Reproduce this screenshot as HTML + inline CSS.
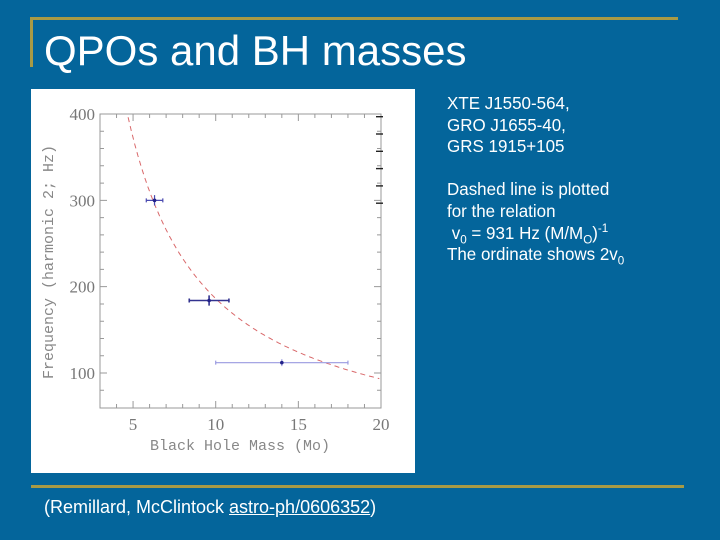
<!DOCTYPE html>
<html><head><meta charset="utf-8"><style>
body{margin:0;width:720px;height:540px;background:#04659b;position:relative;overflow:hidden;font-family:"Liberation Sans",Arial,sans-serif;color:#fff}
.abs{position:absolute}
.side{left:447px;top:93px;font-size:17.5px;line-height:21.6px;white-space:nowrap;transform:scaleX(0.97);transform-origin:left}
sub,sup{line-height:0}
</style></head><body>
<div class="abs" style="left:30px;top:17px;width:648px;height:3px;background:#a89a45"></div>
<div class="abs" style="left:30px;top:17px;width:3px;height:50px;background:#a89a45"></div>
<div class="abs" style="left:44px;top:27px;font-size:42px;line-height:48px;white-space:nowrap">QPOs and BH masses</div>
<div class="abs" style="left:31px;top:485px;width:653px;height:3px;background:#a89a45"></div>
<div class="abs" style="left:44px;top:496px;font-size:18px;line-height:22px;white-space:nowrap">(Remillard, McClintock <span style="text-decoration:underline">astro-ph/0606352</span>)</div>
<div class="abs side">XTE J1550-564,<br>GRO J1655-40,<br>GRS 1915+105<br><br>Dashed line is plotted<br>for the relation<br>&nbsp;v<sub style="font-size:12px">0</sub> = 931 Hz (M/M<sub style="font-size:12px">O</sub>)<sup style="font-size:12px">-1</sup><br>The ordinate shows 2v<sub style="font-size:12px">0</sub></div>
<svg class="abs" style="left:0;top:0" width="720" height="540">
<rect x="31" y="89" width="384" height="384" fill="#fff"/>
<g id="g"></g>
</svg>
<script>
const xTicks=[5,10,15,20];
const yTicks=[100,200,300,400];
const masses=[6.3,9.6,14];
const massLo=[5.8,8.4,10];
const massHi=[6.8,10.8,18];
const freqs=[300,184,112];
const freqErr=[6,6,4];
const nu0=931;
const X0=100,X1=381,Y0=408,Y1=114,xmin=3,xmax=20,ymin=59.5,ymax=400;
const sx=v=>X0+(v-xmin)/(xmax-xmin)*(X1-X0);
const sy=v=>Y0-(v-ymin)/(ymax-ymin)*(Y0-Y1);
const g=document.getElementById('g');const NS='http://www.w3.org/2000/svg';
function mk(t,a){const e=document.createElementNS(NS,t);for(const k in a)e.setAttribute(k,a[k]);g.appendChild(e);return e;}
let f=mk('rect',{x:X0,y:Y1,width:X1-X0,height:Y0-Y1,fill:'none',stroke:'#999','stroke-width':1});


for(let m=4;m<20;m++){const L=xTicks.includes(m)?7:4;
let t=mk('path',{d:`M${sx(m)},${Y0}v${-L}M${sx(m)},${Y1}v${L}`,stroke:'#999'});

}
for(let v=80;v<400;v+=20){const L=yTicks.includes(v)?7:4;
let t=mk('path',{d:`M${X0},${sy(v)}h${L}M${X1},${sy(v)}h${-L}`,stroke:'#999'});

}
xTicks.forEach(v=>{let t=mk('text',{x:sx(v),y:Y0+22,'text-anchor':'middle','font-family':'Liberation Serif,serif','font-size':17,fill:'#777'});t.textContent=v;

});
yTicks.forEach(v=>{let t=mk('text',{x:X0-5,y:sy(v)+6,'text-anchor':'end','font-family':'Liberation Serif,serif','font-size':17,fill:'#777'});t.textContent=v;

});
let xl=mk('text',{x:240,y:450,'text-anchor':'middle','font-family':'Liberation Mono,monospace','font-size':15,fill:'#888'});xl.textContent='Black Hole Mass (Mo)';


let yl=mk('text',{x:0,y:0,'text-anchor':'middle','font-family':'Liberation Mono,monospace','font-size':15,fill:'#888',transform:`translate(53,262) rotate(-90)`});yl.textContent='Frequency (harmonic 2; Hz)';


let d='';for(let m=4.6;m<=20;m+=0.1){const v=2*nu0/m;if(v>400)continue;d+=(d?'L':'M')+sx(m).toFixed(1)+','+sy(v).toFixed(1);}
let c=mk('path',{d:d,fill:'none',stroke:'#d9696b','stroke-width':1,'stroke-dasharray':'5,4'});


const cols=['#4a4ab0','#33338f','#9a9ae0'];
masses.forEach((m,i)=>{const col=cols[i];
let e=mk('path',{d:`M${sx(massLo[i])},${sy(freqs[i])}H${sx(massHi[i])}M${sx(massLo[i])},${sy(freqs[i])-2}v4M${sx(massHi[i])},${sy(freqs[i])-2}v4M${sx(m)},${sy(freqs[i]+freqErr[i])}V${sy(freqs[i]-freqErr[i])}`,stroke:col,'stroke-width':i==1?1.6:1.2,fill:'none'});


let p=mk('circle',{cx:sx(m),cy:sy(freqs[i]),r:1.8,fill:'#22228a'});

});
for(let k=0;k<6;k++){let t=mk('rect',{x:376,y:116+k*17.3,width:7,height:1.4,fill:'#222'});

}
</script>
</body></html>
